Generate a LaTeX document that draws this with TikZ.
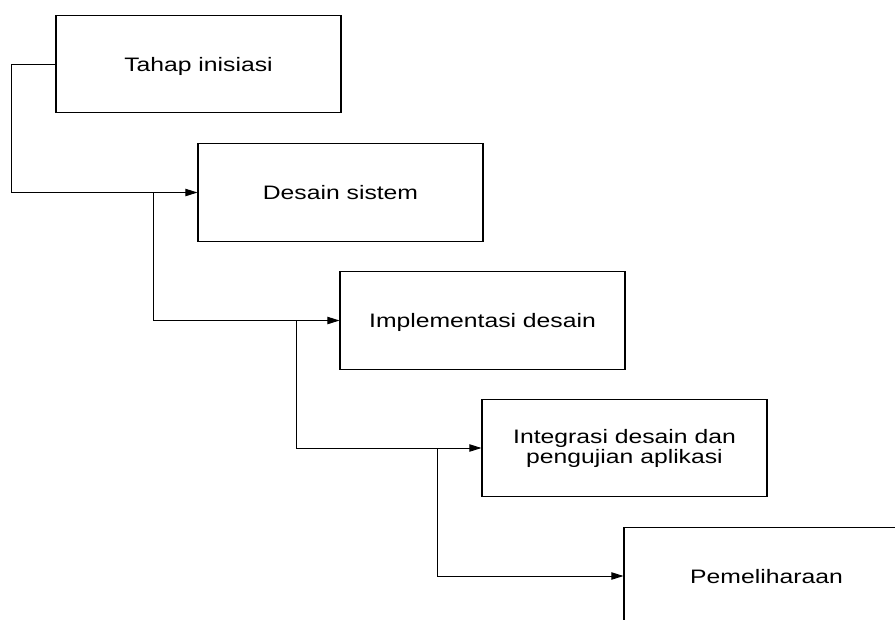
\documentclass[tikz,border=0pt]{standalone}
\usepackage{fontspec}
\setmainfont{Liberation Sans}[FakeStretch=1.27]
\usetikzlibrary{arrows.meta}
\begin{document}
\begin{tikzpicture}[x=0.75pt,y=-0.75pt,
  stagebox/.style={draw=black,line width=0.8pt,fill=white,minimum width=213.75pt,minimum height=73pt,inner sep=0pt,
    font=\fontsize{14.6}{15}\selectfont,align=center},
  oneline/.style={text height=10.5pt,text depth=0pt},
  flow/.style={draw=black,line width=0.7pt,-{Triangle[length=9pt,width=5.5pt]}},
  plain/.style={draw=black,line width=0.7pt}]
\useasboundingbox (0,0) rectangle (895,619);
\clip (0,0) rectangle (895,619);
\node[stagebox,oneline] (b1) at (198.5,64) {Tahap inisiasi};
\node[stagebox,oneline] (b2) at (340.5,192.5) {Desain sistem};
\node[stagebox,oneline] (b3) at (482.5,320.5) {Implementasi desain};
\node[stagebox] (b4) at (624.5,448) {Integrasi desain dan\\pengujian aplikasi};
\node[stagebox,oneline] (b5) at (766.5,576) {Pemeliharaan};
\coordinate (c1) at (11,64);
\coordinate (j1) at (153,192.5);
\coordinate (j2) at (296,320.5);
\coordinate (j3) at (437,448);
\draw[flow] (b1.west) -- (c1) |- (b2.west);
\draw[flow] (j1) |- (b3.west);
\draw[flow] (j2) |- (b4.west);
\draw[flow] (j3) |- (b5.west);
\end{tikzpicture}
\end{document}
